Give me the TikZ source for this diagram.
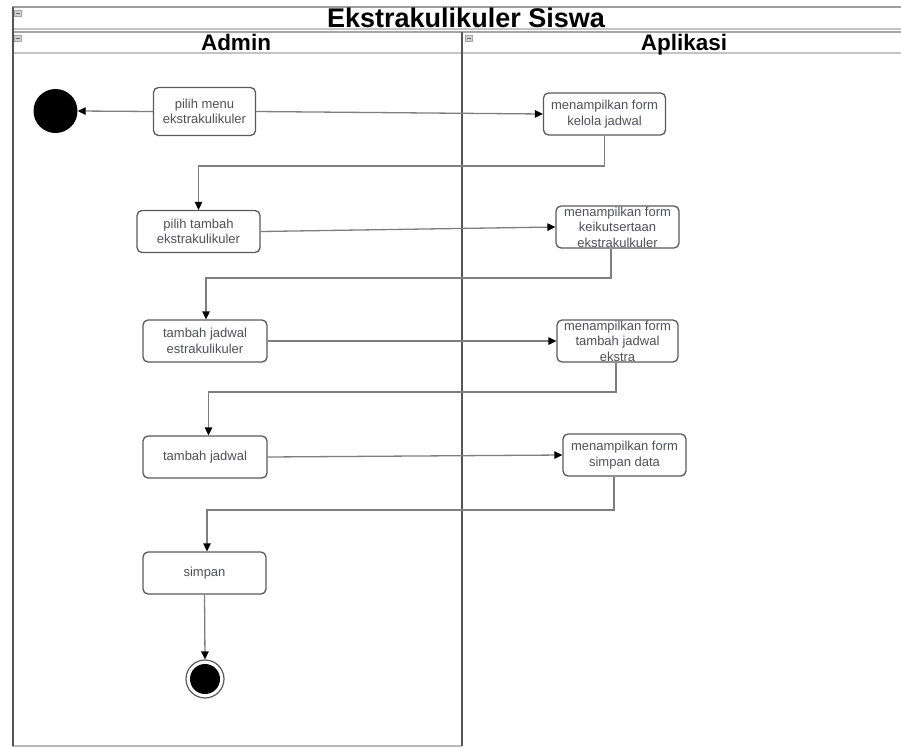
\documentclass[tikz,border=0pt]{standalone}
\usepackage{fontspec}
\setmainfont{Liberation Sans}
\usetikzlibrary{arrows.meta}
\definecolor{linegray}{HTML}{7E7E7E}
\definecolor{boxgray}{HTML}{5A5A5A}
\definecolor{txtgray}{HTML}{50505A}
\definecolor{framedark}{HTML}{555555}
\definecolor{framelight}{HTML}{C4C4C4}
\tikzset{
  act/.style={draw=boxgray, line width=1.3pt, rounded corners=5pt, fill=white, inner sep=0pt},
  lbl/.style={align=center, text=txtgray, font=\fontsize{13}{15.5}\selectfont, inner sep=0pt},
  flow/.style={draw=linegray, line width=1.3pt, -{Triangle[length=8pt,width=7.5pt,color=black,fill=black]}},
  ttl/.style={font=\bfseries\fontsize{27}{30}\selectfont, anchor=base, inner sep=0pt},
  lane/.style={font=\bfseries\fontsize{22.5}{26}\selectfont, anchor=base, inner sep=0pt},
  icon/.style={draw=gray!70, fill=gray!35, minimum size=6.5pt, inner sep=0pt, line width=0.5pt},
}
\begin{document}
\begin{tikzpicture}[x=1pt,y=-1pt]
\useasboundingbox (0,0) rectangle (901,747);
% frame
\draw[draw=gray!75, line width=1.5pt] (12,7) -- (901,7);
\draw[draw=framelight, line width=2pt] (12,28.5) -- (901,28.5);
\draw[draw=gray!70, line width=1.5pt] (12,32) -- (901,32);
\draw[draw=framelight, line width=2.5pt] (12,53) -- (901,53);
\draw[draw=gray!55, line width=2pt] (12,745.5) -- (462,745.5);
\draw[draw=framedark, line width=2pt] (13,7) -- (13,746);
\draw[draw=framedark, line width=2.5pt] (462,32) -- (462,746);
% icons
\node[icon] (ic1) at (17.5,13) {};
\node[icon] (ic2) at (17.5,38) {};
\node[icon] (ic3) at (468.5,38) {};
\foreach \n in {ic1,ic2,ic3} \draw[gray!80!black, line width=0.8pt] ([xshift=-2pt]\n.center) -- ([xshift=2pt]\n.center);
% titles
\node[ttl] (title) at (466,27) {Ekstrakulikuler Siswa};
\node[lane] (admin) at (236,50.5) {Admin};
\node[lane] (aplikasi) at (684,50.5) {Aplikasi};
% states
\node[circle, fill=black, minimum size=44pt, inner sep=0pt] (init) at (55.5,111) {};
\node[circle, draw=boxgray, fill=white, line width=1.2pt, minimum size=38pt, inner sep=0pt] (fin) at (205,679) {};
\node[circle, fill=black, minimum size=30pt, inner sep=0pt] (finin) at (205,679) {};
% activities
\node[act, minimum width=102pt, minimum height=48pt, label={[lbl]center:{pilih menu\\ekstrakulikuler}}] (n1) at (204.5,111.5) {};
\node[act, minimum width=122pt, minimum height=42pt, label={[lbl]center:{menampilkan form\\kelola jadwal}}] (n3) at (604.5,114) {};
\node[act, minimum width=123pt, minimum height=42pt, label={[lbl]center:{pilih tambah\\ekstrakulikuler}}] (n4) at (198.5,231.5) {};
\node[act, minimum width=123pt, minimum height=42pt, label={[lbl]center:{menampilkan form\\keikutsertaan\\ekstrakulkuler}}] (n5) at (617.5,227) {};
\node[act, minimum width=124pt, minimum height=42pt, label={[lbl]center:{tambah jadwal\\estrakulikuler}}] (n6) at (205,341) {};
\node[act, minimum width=121pt, minimum height=42pt, label={[lbl]center:{menampilkan form\\tambah jadwal\\ekstra}}] (n7) at (617.5,341) {};
\node[act, minimum width=124pt, minimum height=42pt, label={[lbl]center:{tambah jadwal}}] (n8) at (205,457) {};
\node[act, minimum width=123pt, minimum height=42pt, label={[lbl]center:{menampilkan form\\simpan data}}] (n9) at (624.5,455) {};
\node[act, minimum width=123pt, minimum height=42pt, label={[lbl]center:{simpan}}] (n10) at (204.5,573) {};
% bends
\coordinate (b1) at (400,166);
\coordinate (b2) at (400,278);
\coordinate (b3) at (400,392);
\coordinate (b4) at (400,510);
% connectors
\draw[flow] (n1.west) -- (init.east);
\draw[flow] (n1.east) -- (n3.west);
\draw[flow] (n3.south) |- (b1) -| (n4.north);
\draw[flow] (n4.east) -- (n5.west);
\draw[flow] ([xshift=-6.5pt]n5.south) |- (b2) -| ([xshift=1pt]n6.north);
\draw[flow] (n6.east) -- (n7.west);
\draw[flow] ([xshift=-1.5pt]n7.south) |- (b3) -| ([xshift=3.5pt]n8.north);
\draw[flow] (n8.east) -- (n9.west);
\draw[flow] ([xshift=-10.5pt]n9.south) |- (b4) -| ([xshift=2.5pt]n10.north);
\draw[flow] (n10.south) -- (fin.north);
\end{tikzpicture}
\end{document}
